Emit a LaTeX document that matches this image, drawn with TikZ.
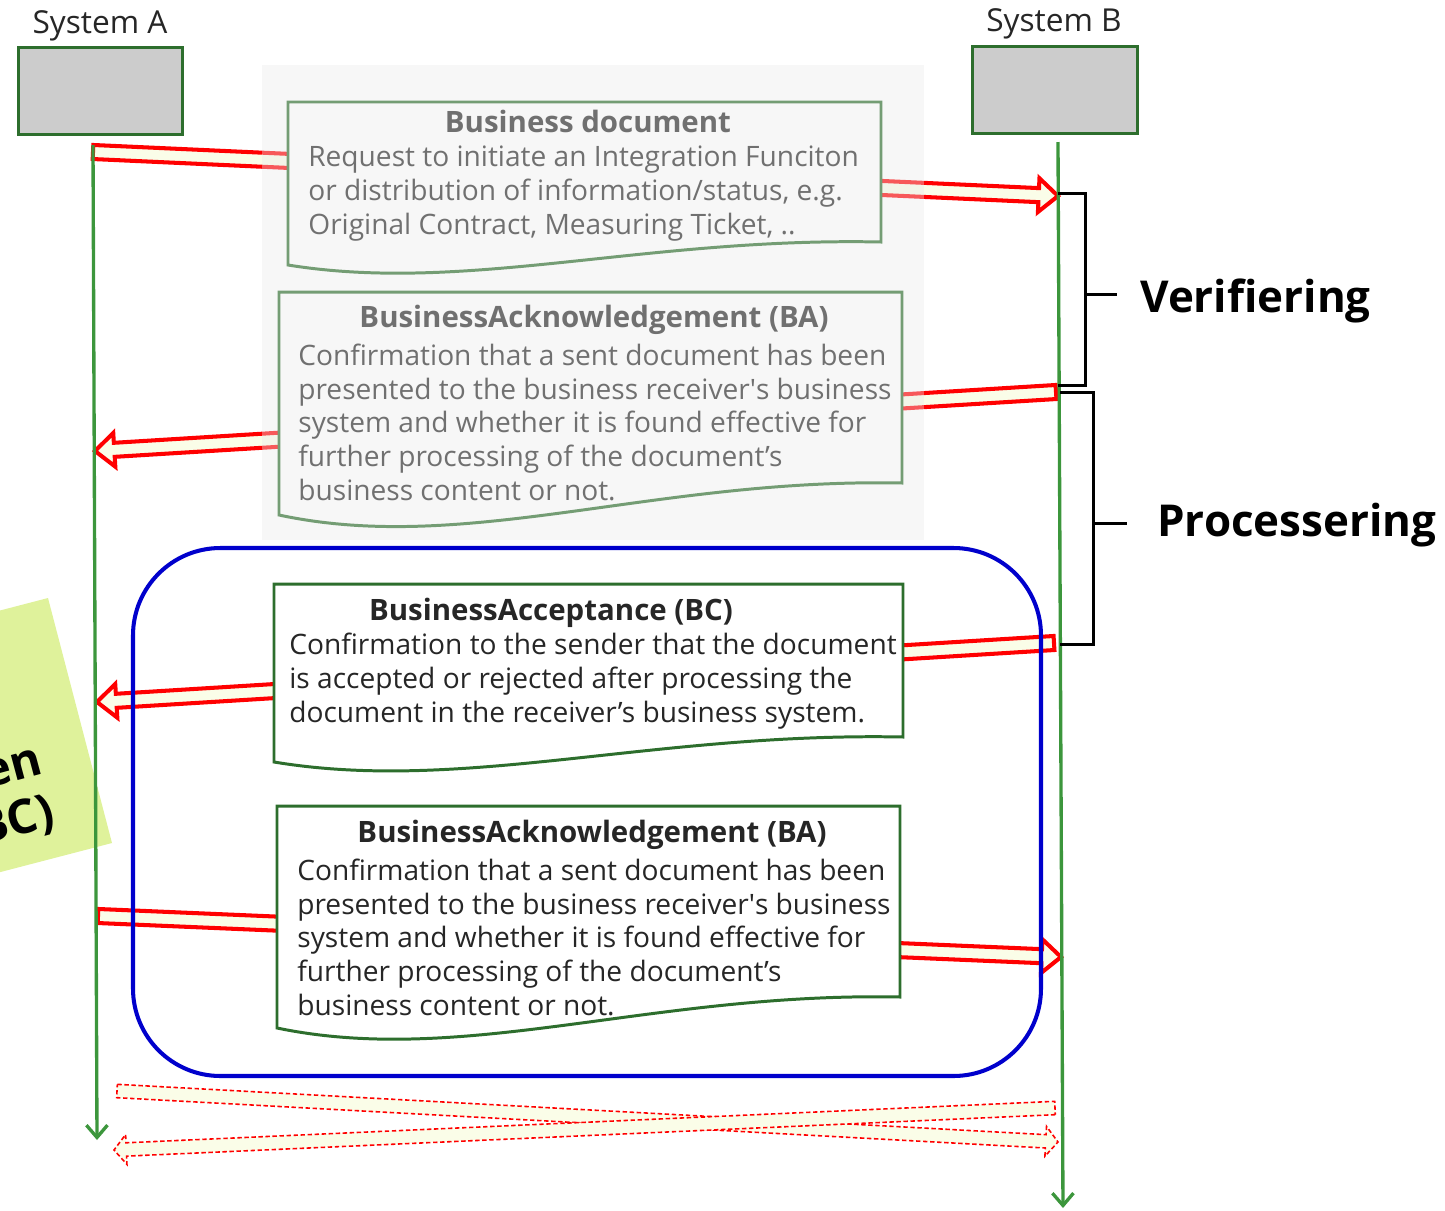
\documentclass[tikz,border=0pt]{standalone}
\usepackage{fontspec}
\setmainfont{Open Sans}
\usetikzlibrary{arrows.meta,calc,positioning}

\definecolor{lifegreen}{RGB}{60,150,60}
\definecolor{boxgreen}{RGB}{45,110,45}
\definecolor{boxgray}{RGB}{204,204,204}
\definecolor{ivory}{RGB}{250,253,232}
\definecolor{panelgray}{RGB}{234,234,234}
\definecolor{notegreen}{RGB}{223,242,155}
\definecolor{frameblue}{RGB}{0,0,204}
\definecolor{textdark}{RGB}{38,38,38}

% style, from, to, half width, head half width, head length
\newcommand{\blockarrow}[6]{%
  \draw[#1] let \p1=(#2), \p2=(#3), \n1={atan2(\y2-\y1,\x2-\x1)} in
    ($(\p1)+({\n1+90}:#4)$) -- ($(\p2)+({\n1+180}:#6)+({\n1+90}:#4)$)
    -- ($(\p2)+({\n1+180}:#6)+({\n1+90}:#5)$) -- (\p2)
    -- ($(\p2)+({\n1+180}:#6)+({\n1-90}:#5)$) -- ($(\p2)+({\n1+180}:#6)+({\n1-90}:#4)$)
    -- ($(\p1)+({\n1-90}:#4)$) -- cycle;}

% style, left, top, right, bottom left, bottom right
\newcommand{\docshape}[6]{%
  \draw[#1] (#2,#3) -- (#4,#3) -- (#4,#6)
    .. controls ({#2+0.6*(#4-#2)},{#6-5}) and ({#2+0.3*(#4-#2)},{#5+1.25*(#5-#6)}) .. (#2,#5) -- cycle;}

\begin{document}
\begin{tikzpicture}[x=0.02cm,y=-0.02cm]
\tikzstyle{msg}=[draw=red,fill=ivory,line width=2.3pt]
\tikzstyle{msgdash}=[draw=red,fill=ivory,line width=0.9pt,dash pattern=on 2.5pt off 1.5pt]
\tikzstyle{doc}=[draw=boxgreen,fill=white,line width=1.7pt]
\tikzstyle{doctitle}=[inner sep=0pt,anchor=base,text=textdark,font=\fontsize{16.75}{20}\selectfont\bfseries]
\tikzstyle{doctext}=[inner sep=0pt,anchor=base west,align=left,text=textdark,font=\fontsize{16}{19.1}\selectfont]
\tikzstyle{system}=[draw=boxgreen,fill=boxgray,line width=1.7pt,minimum width=3.3cm,minimum height=1.74cm,inner sep=0pt]
\tikzstyle{syslabel}=[inner sep=0pt,anchor=base,text=textdark,font=\fontsize{18}{22}\selectfont]
\tikzstyle{lifeline}=[draw=lifegreen,line width=1.9pt,-{Straight Barb[length=7pt,width=12pt,line width=1.9pt]}]
\tikzstyle{bracket}=[line width=1.7pt]
\tikzstyle{phase}=[inner sep=0pt,anchor=base west,font=\fontsize{25}{30}\selectfont\bfseries]
\tikzstyle{notetext}=[inner sep=0pt,anchor=base east,rotate=15,font=\fontsize{27}{32}\selectfont\bfseries]

\useasboundingbox (0,0) rectangle (1445,1211);

% sticky note, mostly off the page
\fill[notegreen] (48,598) -- (112,843) -- (-130,906) -- (-194,661) -- cycle;
\node[notetext] (note1) at (45,773) {en};
\node[notetext] (note2) at (57,825) {BC)};

% end points of the messages on the lifelines
\coordinate (a1) at (93,152);   \coordinate (b1) at (1058,196);
\coordinate (b2) at (1056,392); \coordinate (a2) at (95,451);
\coordinate (b3) at (1054,643); \coordinate (a3) at (97,702);
\coordinate (a4) at (98,916);   \coordinate (b4) at (1061,957);
\coordinate (a5) at (117,1091); \coordinate (b5) at (1058,1142);
\coordinate (b6) at (1055,1108); \coordinate (a6) at (114,1150);

\blockarrow{msg}{a1}{b1}{4pt}{9.6pt}{11pt}
\blockarrow{msg}{b2}{a2}{4pt}{9.6pt}{11pt}
\blockarrow{msg}{b3}{a3}{4pt}{9.6pt}{11pt}
\blockarrow{msg}{a4}{b4}{4pt}{9.6pt}{11pt}
\blockarrow{msgdash}{a5}{b5}{3.8pt}{8.5pt}{7pt}
\blockarrow{msgdash}{b6}{a6}{3.8pt}{8.5pt}{7pt}

% documents
\docshape{doc}{288}{102}{881}{265}{242}
\node[doctitle] (doc1title) at (588,132) {Business document};
\node[doctext] (doc1text) at (308,234) {Request to initiate an Integration Funciton\\or distribution of information/status, e.g.\\Original Contract, Measuring Ticket, ..};

\docshape{doc}{279}{292}{902}{515}{483}
\node[doctitle] (doc2title) at (594,327) {BusinessAcknowledgement (BA)};
\node[doctext] (doc2text) at (298,500) {Confirmation that a sent document has been\\presented to the business receiver\textquotesingle s business\\system and whether it is found effective for\\further processing of the document’s\\business content or not.};

% faded panel
\fill[panelgray,opacity=0.38] (262,65) rectangle (924,540);

\docshape{doc}{274}{584}{903}{762}{737}
\node[doctitle] (doc3title) at (551,620) {BusinessAcceptance (BC)};
\node[doctext] (doc3text) at (289,722) {Confirmation to the sender that the document\\is accepted or rejected after processing the\\document in the receiver’s business system.};

\docshape{doc}{277}{806}{900}{1028}{997}
\node[doctitle] (doc4title) at (592,842) {BusinessAcknowledgement (BA)};
\node[doctext] (doc4text) at (297,1015) {Confirmation that a sent document has been\\presented to the business receiver\textquotesingle s business\\system and whether it is found effective for\\further processing of the document’s\\business content or not.};

\draw[frameblue,line width=2.3pt,rounded corners=1.75cm] (133,548) rectangle (1041,1076);

% systems and lifelines
\node[system] (sysA) at (100.5,91) {};
\node[system] (sysB) at (1055,90) {};
\node[syslabel] (labA) at (100,33) {System A};
\node[syslabel] (labB) at (1054,31) {System B};

\coordinate (topA) at (93,145);  \coordinate (endA) at (97,1140);
\coordinate (topB) at (1058,142); \coordinate (endB) at (1063,1208);
\draw[lifeline] (topA) -- (endA);
\draw[lifeline] (topB) -- (endB);

% phases
\draw[bracket] (1058,193) -- (1085,193) -- (1085,385) -- (1058,385) (1085,294) -- (1117,294);
\draw[bracket] (1060,392) -- (1093,392) -- (1093,644) -- (1060,644) (1093,523) -- (1127,523);
\node[phase] (verif) at (1140,312) {Verifiering};
\node[phase] (proc) at (1157,536) {Processering};
\end{tikzpicture}
\end{document}
